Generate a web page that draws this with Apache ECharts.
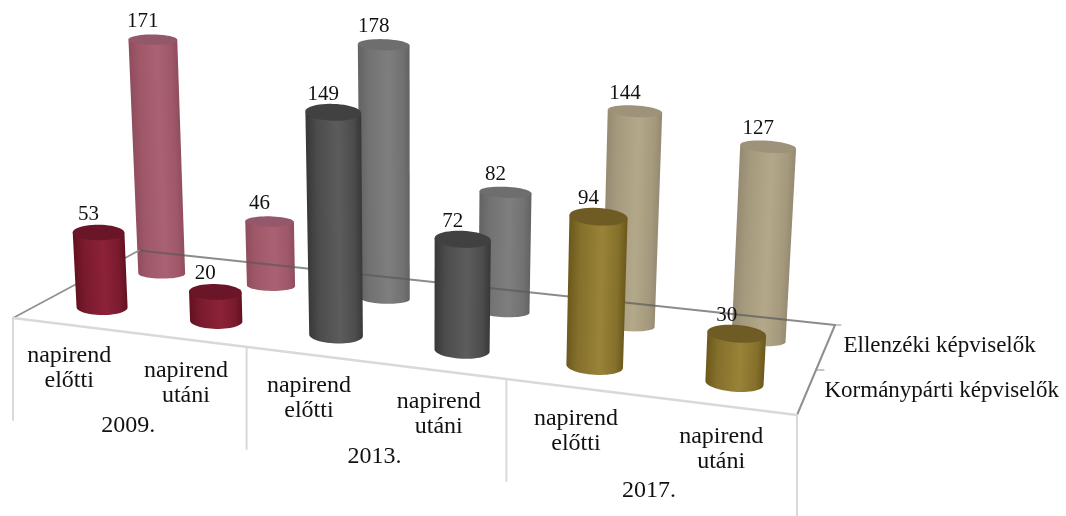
<!DOCTYPE html>
<html><head><meta charset="utf-8">
<style>html,body{margin:0;padding:0;background:#fff}#c{width:1066px;height:516px}</style>
<script src="https://cdn.jsdelivr.net/npm/echarts@6/dist/echarts.min.js"></script>
</head><body><div id="c"></div>
<script>
// ---- data ----
var years = ['2009.', '2013.', '2017.'];
var periods = ['napirend\nelőtti', 'napirend\nutáni'];
var categories = ['2009 előtti', '2009 utáni', '2013 előtti', '2013 utáni', '2017 előtti', '2017 utáni'];
var seriesNames = ['Kormánypárti képviselők', 'Ellenzéki képviselők'];
var kormanypartiValues = [53, 20, 149, 72, 94, 30];
var ellenzekiValues = [171, 46, 178, 82, 144, 127];

// ---- styles (per year: edge, shoulder, highlight, cap) ----
var frontPalette = [
  ['#64111f', '#7a1a2e', '#8c2238', '#6a1528'],
  ['#383838', '#4c4c4c', '#5c5c5c', '#414141'],
  ['#6b591c', '#85702c', '#998337', '#6e5c24']
];
var backPalette = [
  ['#904d5d', '#9f5869', '#aa6273', '#93596a'],
  ['#636363', '#727272', '#7e7e7e', '#6e6e6e'],
  ['#968a72', '#a69a7e', '#b4a88a', '#9e927a']
];
var FONT = '"Liberation Serif", serif';
var ROW_FRONT = 0.27, ROW_BACK = 0.76;

// ---- oblique floor projection: u across categories, d into depth ----
function warp(u, d) { var k = 1.178 - 0.05 * d; return u / (u + k * (1 - u)); }
function floor(u, d) {
  var w = warp(u, d);
  var fx = 13 + 784 * w, fy = 318 + 97 * w, bx = 139 + 696 * w, by = 250.5 + 74.5 * w;
  return { x: fx + (bx - fx) * d, y: fy + (by - fy) * d, w: w };
}
function uOf(api, i) { return api.coord([i, 0])[0] / api.getWidth(); }

function ellipsePts(cx, cy, rx, ry, shear, from, to, n) {
  var pts = [];
  for (var i = 0; i <= n; i++) {
    var a = from + (to - from) * i / n, dx = rx * Math.cos(a);
    pts.push([cx + dx, cy + ry * Math.sin(a) + shear * dx]);
  }
  return pts;
}

function barRenderer(depth, palette) {
  return function (params, api) {
    var i = api.value(0), v = api.value(1);
    var p = floor(uOf(api, i), depth);
    var by = p.y + 1;
    var scale = (1.412 - 0.076 * depth) + (0.281 - 0.187 * (depth - 0.25)) * p.w;
    var h = api.size([0, v])[1] * scale;
    var rb = 26.36 - 4.3 * depth + 4.3 * p.w;
    var rt = rb * (1 + h * 0.00018);
    var ratio = 0.35 - 0.18 * depth;
    var shear = 0.08 * p.w;
    var tx = p.x + h * (p.x - 420) * 0.000147, ty = by - h;
    var pal = palette[Math.floor(i / 2)];
    var body = [[tx - rt, ty - shear * rt], [tx + rt, ty + shear * rt]]
      .concat(ellipsePts(p.x, by, rb, rb * ratio, shear, 0, Math.PI, 28));
    // shading runs across the cylinder's leaning axis
    var len = Math.sqrt((tx - p.x) * (tx - p.x) + h * h) || 1;
    var nx = h / len, ny = (tx - p.x) / len;
    var cx = (tx + p.x) / 2, cy = (ty + by) / 2, r = (rt + rb) / 2;
    var grad = { type: 'linear', global: true, x: cx - nx * r, y: cy - ny * r, x2: cx + nx * r, y2: cy + ny * r, colorStops: [
      { offset: 0, color: pal[0] }, { offset: 0.2, color: pal[1] }, { offset: 0.58, color: pal[2] },
      { offset: 0.86, color: pal[1] }, { offset: 1, color: pal[0] }] };
    return { type: 'group', children: [
      { type: 'polygon', shape: { points: body }, style: { fill: grad } },
      { type: 'polygon', shape: { points: ellipsePts(tx, ty, rt, rt * ratio, shear, 0, 2 * Math.PI, 48) }, style: { fill: pal[3] } },
      { type: 'text', style: { text: String(v), x: tx - 10, y: ty - 18, fill: '#111', font: '21px ' + FONT, align: 'center', verticalAlign: 'middle' } }
    ] };
  };
}

function seg(a, b, color, width) {
  return { type: 'line', shape: { x1: a[0], y1: a[1], x2: b[0], y2: b[1] }, style: { stroke: color, lineWidth: width, lineCap: 'round' } };
}
function label(text, x, y, align, size) {
  return { type: 'text', style: { text: text, x: x, y: y, fill: '#111', font: size + 'px ' + FONT, lineHeight: 25, align: align, verticalAlign: 'middle' } };
}
function frameRenderer(params, api) {
  var ch = [];
  var c = function (u, d) { var p = floor(u, d); return [p.x, p.y]; };
  var axisBack = 'rgba(90,90,90,0.7)', axisSide = '#8f8f8f', light = '#d9d9d9';
  // floor edges
  ch.push(seg(c(0, 1), c(1, 1), axisBack, 2));
  ch.push(seg(c(0, 0), c(0, 1), axisSide, 1.6));
  ch.push(seg(c(1, 0), c(1, 1), axisSide, 2));
  ch.push(seg(c(1, 1), [c(1, 1)[0] + 6, c(1, 1)[1]], axisSide, 1));
  ch.push(seg(c(1, 0.5), [c(1, 0.5)[0] + 8, c(1, 0.5)[1]], axisSide, 1));
  ch.push(seg(c(0, 0), c(1, 0), light, 2.4));
  // group separators below the front edge
  for (var g = 0; g <= years.length; g++) {
    var t = c(g / years.length, 0);
    ch.push(seg(t, [t[0], t[1] + 102], light, 2));
  }
  // period labels
  for (var i = 0; i < categories.length; i++) {
    var p = c((i + 0.5) / categories.length, 0);
    ch.push(label(periods[i % periods.length], p[0], p[1] + 43.5, 'center', 24));
  }
  // year labels
  years.forEach(function (y, j) {
    var p = c((j + 0.5) / years.length, 0);
    ch.push(label(y, p[0] + 1.5, p[1] + 94, 'center', 24));
  });
  // series labels on the depth axis
  [ROW_FRONT - 0.02, ROW_BACK - 0.01].forEach(function (d, j) {
    var p = c(1, d);
    ch.push(label(seriesNames[j], p[0] + 18, p[1] - 2, 'left', 23));
  });
  return { type: 'group', children: ch };
}

function rows(values) { return values.map(function (v, i) { return [i, v]; }); }

var chart = echarts.init(document.getElementById('c'), null, { renderer: 'canvas' });
chart.setOption({
  animation: false,
  backgroundColor: '#fff',
  grid: { left: 0, right: 0, top: 0, height: 200 },
  xAxis: { type: 'category', data: categories, show: false },
  yAxis: { type: 'value', min: 0, max: 200, show: false },
  series: [
    { type: 'custom', name: seriesNames[1], z: 2, silent: true, clip: false, data: rows(ellenzekiValues), renderItem: barRenderer(ROW_BACK, backPalette) },
    { type: 'custom', name: 'frame', z: 3, silent: true, clip: false, data: [[0, 0]], renderItem: frameRenderer },
    { type: 'custom', name: seriesNames[0], z: 4, silent: true, clip: false, data: rows(kormanypartiValues), renderItem: barRenderer(ROW_FRONT, frontPalette) }
  ]
});
</script></body></html>
